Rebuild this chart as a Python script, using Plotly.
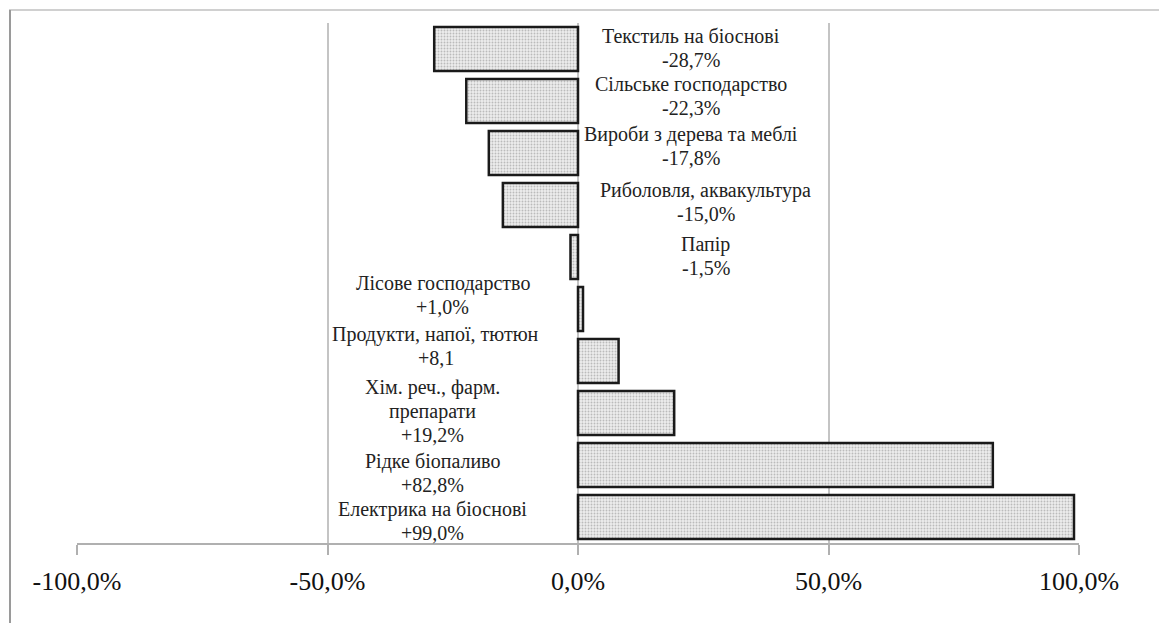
import plotly.graph_objects as go

# Sectors of the bioeconomy and their change, %
sectors = [
    "Текстиль на біоснові",
    "Сільське господарство",
    "Вироби з дерева та меблі",
    "Риболовля, аквакультура",
    "Папір",
    "Лісове господарство",
    "Продукти, напої, тютюн",
    "Хім. реч., фарм.<br>препарати",
    "Рідке біопаливо",
    "Електрика на біоснові",
]
change = [-28.7, -22.3, -17.8, -15.0, -1.5, 1.0, 8.1, 19.2, 82.8, 99.0]
units = ["%", "%", "%", "%", "%", "%", "", "%", "%", "%"]

tick_vals = [-100, -50, 0, 50, 100]
tick_text = ["-100,0%", "-50,0%", "0,0%", "50,0%", "100,0%"]

# label placement tweaks (pixels)
label_dx = [0, 0, 0, 15, 15, 10, 3, 0, 0, 0]
label_dy = [1, 5, 7, 3, 1, 14, 15, 2, -8, -4]
LINE_STEP = 23.5

SERIF = "Liberation Serif"

ids = list(range(len(sectors)))

fig = go.Figure(
    go.Bar(
        x=change,
        y=ids,
        orientation="h",
        width=0.85,
        marker=dict(
            color="#e6e6e6",
            line=dict(color="#1a1a1a", width=2.5),
            pattern=dict(shape=".", fgcolor="#8a8a8a", bgcolor="#ececec",
                         size=3, solidity=0.3),
        ),
        hoverinfo="x+y",
    )
)

# each label is drawn line by line so the line spacing stays compact
for i, (name, v, u) in enumerate(zip(sectors, change, units)):
    val = f"{v:+.1f}".replace(".", ",") + u
    lines = name.split("<br>") + [val]
    n = len(lines)
    for k, line in enumerate(lines):
        offset = ((n - 1) / 2 - k) * LINE_STEP
        fig.add_annotation(
            x=22.5 if v < 0 else -29,
            y=i,
            text=line,
            showarrow=False,
            xanchor="center",
            yanchor="middle",
            xshift=label_dx[i],
            yshift=label_dy[i] + offset,
            font=dict(family=SERIF, size=20, color="#222222"),
        )

# outer frame lines (top and left)
fig.add_shape(type="line", xref="paper", yref="paper",
              x0=(9 - 77) / 1002, x1=(1160 - 77) / 1002,
              y0=(543 - 10) / 520, y1=(543 - 10) / 520,
              line=dict(color="#d0d0d0", width=2))
fig.add_shape(type="line", xref="paper", yref="paper",
              x0=(10 - 77) / 1002, x1=(10 - 77) / 1002,
              y0=(543 - 10) / 520, y1=(543 - 625) / 520,
              line=dict(color="#9a9a9a", width=2))

fig.update_layout(
    width=1159,
    height=623,
    margin=dict(l=77, r=80, t=23, b=80),
    paper_bgcolor="white",
    plot_bgcolor="white",
    showlegend=False,
    bargap=0.15,
    font=dict(family=SERIF, color="#111111"),
    xaxis=dict(
        range=[-100, 100],
        tickvals=tick_vals,
        ticktext=tick_text,
        tickfont=dict(family=SERIF, size=26, color="#111111"),
        showgrid=True,
        gridcolor="#c4c4c4",
        gridwidth=1.5,
        zeroline=False,
        showline=True,
        linecolor="#b0b0b0",
        linewidth=1.5,
        ticks="outside",
        ticklen=10,
        tickcolor="#b0b0b0",
        tickwidth=1.5,
        ticklabelstandoff=4,
        fixedrange=True,
    ),
    yaxis=dict(
        range=[len(sectors) - 0.5, -0.5],
        showticklabels=False,
        showgrid=False,
        zeroline=False,
        showline=False,
        ticks="",
        fixedrange=True,
    ),
)

fig.write_html("out.html")
